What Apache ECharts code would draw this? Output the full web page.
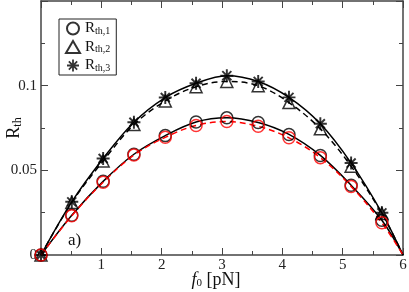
<!DOCTYPE html>
<html><head><meta charset="utf-8">
<script src="https://cdn.jsdelivr.net/npm/echarts@6/dist/echarts.min.js"></script>
<style>html,body{margin:0;padding:0;background:#fff}#c{width:409px;height:292px}</style>
</head><body><div id="c"></div>
<script>
// ---- data ----
const fValues = [0, 0.51, 1.03, 1.54, 2.06, 2.57, 3.08, 3.6, 4.11, 4.63, 5.14, 5.65];
const fEnd = 6;
const rth1Solid  = [0, 0.0235, 0.0435, 0.0595, 0.0705, 0.0785, 0.0810, 0.0782, 0.0712, 0.0588, 0.0412, 0.0205];
const rth1Dashed = [0, 0.0232, 0.0430, 0.0590, 0.0695, 0.0765, 0.0788, 0.0760, 0.0692, 0.0575, 0.0405, 0.0190];
const rth2       = [0, 0.0310, 0.0555, 0.0770, 0.0910, 0.0994, 0.1025, 0.1000, 0.0900, 0.0745, 0.0524, 0.0245];
const rth3       = [0, 0.0314, 0.0570, 0.0784, 0.0930, 0.1014, 0.1059, 0.1025, 0.0931, 0.0775, 0.0543, 0.0249];
const xTicks = [0, 1, 2, 3, 4, 5, 6];
const yTickLabels = ['0', '0.05', '0.1'];
const legendNames = ['R1', 'R2', 'R3'];
const legendSubs = ['th,1', 'th,2', 'th,3'];

const pts = (ys) => fValues.map((f, i) => [f, ys[i]]);
const curve = (ys) => pts(ys).concat([[fEnd, 0]]);

const serif = 'Liberation Serif';
const star = 'path://M0 8.5H20V11.5H0Z M8.5 0H11.5V20H8.5Z M4.1 2L18 15.9L15.9 18L2 4.1Z M18 4.1L4.1 18L2 15.9L15.9 2Z';
const axisColor = '#444';

function lineSeries(ys, color, dashed) {
  return {type: 'line', data: curve(ys), smooth: 0.35, showSymbol: false, silent: true,
    lineStyle: {color: color, width: 1.5, type: dashed ? [6, 4] : 'solid'}, z: 2};
}
function markSeries(name, ys, symbol, color, size, filled) {
  return {name: name, type: 'scatter', data: pts(ys), symbol: symbol, symbolSize: size, z: 3,
    itemStyle: filled ? {color: color} : {color: 'rgba(0,0,0,0)', borderColor: color, borderWidth: 1.5}};
}
const frameAxis = (pos, isX) => ({
  type: 'value', position: pos, min: 0, max: isX ? 6 : 0.15, interval: isX ? 1 : 0.05,
  axisLine: {show: true, onZero: false, lineStyle: {color: axisColor, width: 1.5}},
  axisTick: {inside: true, length: 7, lineStyle: {color: axisColor}},
  minorTick: {show: true, splitNumber: 2, length: 4, lineStyle: {color: axisColor}},
  axisLabel: {show: false}, splitLine: {show: false}
});

const chart = echarts.init(document.getElementById('c'), null, {renderer: 'canvas'});
chart.setOption({
  animation: false,
  grid: {left: 41, right: 6, top: 1, bottom: 37, containLabel: false, outerBoundsMode: 'none'},
  xAxis: [{
    type: 'value', min: xTicks[0], max: xTicks[xTicks.length - 1], interval: 1,
    axisLine: {onZero: false, lineStyle: {color: axisColor, width: 1.5}},
    axisTick: {inside: true, length: 7, lineStyle: {color: axisColor}},
    minorTick: {show: true, splitNumber: 2, length: 4, lineStyle: {color: axisColor}},
    splitLine: {show: false},
    axisLabel: {margin: 3, color: '#222', fontFamily: serif, fontSize: 15,
      formatter: v => (v === 0 ? '' : String(v))},
    name: '{i|f}{s|0}{n| [pN]}', nameLocation: 'middle', nameGap: 16, nameMoveOverlap: false,
    nameTextStyle: {padding: [0, 12, 0, 0], rich: {
      i: {fontFamily: serif, fontSize: 18, fontStyle: 'italic', color: '#111'},
      s: {fontFamily: serif, fontSize: 11, color: '#111', padding: [6, 0, 0, 0]},
      n: {fontFamily: serif, fontSize: 18, color: '#111'}}}
  }, frameAxis('top', true)],
  yAxis: [{
    type: 'value', min: 0, max: 0.15, interval: 0.05,
    axisLine: {onZero: false, lineStyle: {color: axisColor, width: 1.5}},
    axisTick: {inside: true, length: 7, lineStyle: {color: axisColor}},
    minorTick: {show: true, splitNumber: 2, length: 4, lineStyle: {color: axisColor}},
    splitLine: {show: false},
    axisLabel: {margin: 4, color: '#222', fontFamily: serif, fontSize: 15,
      formatter: (v) => { const i = Math.round(v / 0.05); return i < yTickLabels.length ? yTickLabels[i] : ''; }},
    name: '{r|R}{s|th}', nameLocation: 'middle', nameGap: 17, nameRotate: 90, nameMoveOverlap: false,
    nameTextStyle: {rich: {
      r: {fontFamily: serif, fontSize: 18, color: '#111'},
      s: {fontFamily: serif, fontSize: 12, color: '#111', padding: [7, 0, 0, 0]}}}
  }, frameAxis('right', false)],
  legend: {
    orient: 'vertical', left: 59, top: 19, padding: [2, 6, 2, 6],
    itemWidth: 14, itemHeight: 12, itemGap: 3.5,
    borderColor: '#222', borderWidth: 1, borderRadius: 0, backgroundColor: '#fff',
    data: legendNames, selectedMode: false,
    formatter: (name) => '{r|R}{s|' + legendSubs[legendNames.indexOf(name)] + '}',
    textStyle: {rich: {
      r: {fontFamily: serif, fontSize: 15, color: '#111'},
      s: {fontFamily: serif, fontSize: 10, color: '#111', padding: [5, 0, 0, 0]}}}
  },
  graphic: [{type: 'text', left: 68, top: 232,
    style: {text: 'a)', font: '17px "Liberation Serif"', fill: '#111'}}],
  series: [
    lineSeries(rth3, '#000', false),
    lineSeries(rth2, '#000', true),
    lineSeries(rth1Solid, '#000', false),
    lineSeries(rth1Dashed, '#ff0000', true),
    markSeries('R2', rth2, 'triangle', '#000', 12, false),
    markSeries('R3', rth3, star, '#000', 13, true),
    markSeries('R1', rth1Solid, 'circle', '#000', 12, false),
    markSeries('R1red', rth1Dashed, 'circle', '#ff0000', 12, false)
  ]
});
</script></body></html>
